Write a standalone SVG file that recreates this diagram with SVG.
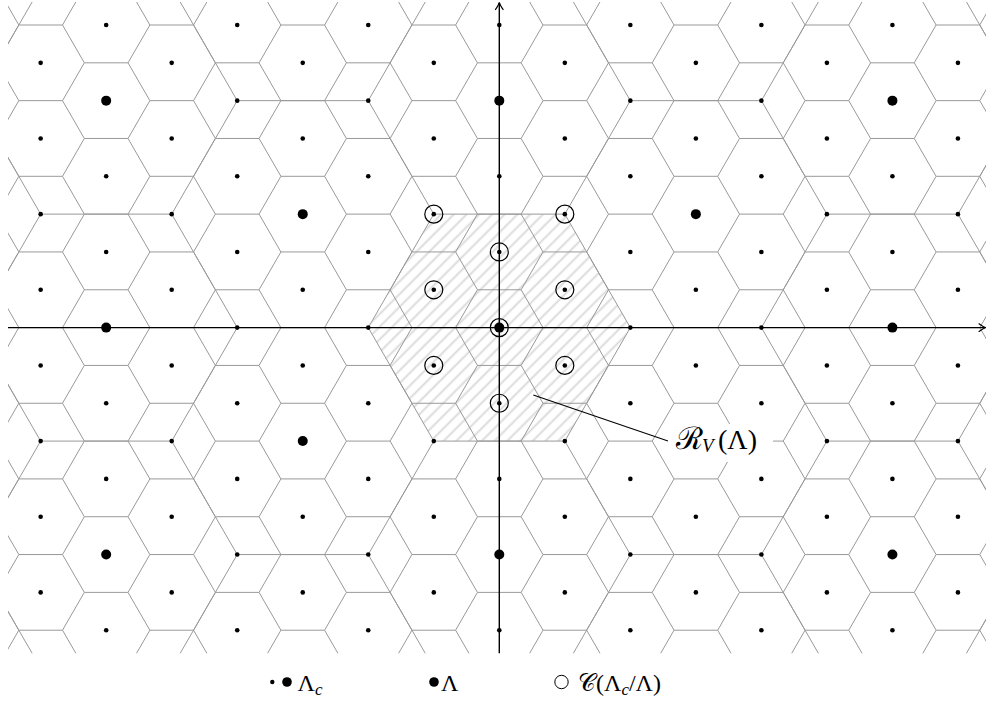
<svg xmlns="http://www.w3.org/2000/svg" xmlns:xlink="http://www.w3.org/1999/xlink" width="986" height="702" viewBox="0 0 986 702">
<style>
.hex{fill:none;stroke:#999;stroke-width:1}
.ax{fill:none;stroke:#000;stroke-width:1.4}
.arr{fill:none;stroke:#000;stroke-width:1.2;stroke-linecap:round}
.ring{fill:none;stroke:#000;stroke-width:1.2}
.tx{font-family:"Liberation Serif","DejaVu Serif",serif;fill:#000}
</style>
<defs>
<clipPath id="clip"><rect x="8" y="2" width="982.6" height="651.2"/></clipPath>
<pattern id="hatch" width="10" height="9" patternUnits="userSpaceOnUse" patternTransform="rotate(-45)">
<rect x="0" y="0" width="10" height="9" fill="#fff"/>
<line x1="-1" y1="4.5" x2="11" y2="4.5" stroke="#d9d9d9" stroke-width="1.8"/>
</pattern>
<path id="scol" class="hex" d="M21.84,-416.08 L43.68,-378.25 L21.84,-340.43 L43.68,-302.6 L21.84,-264.78 L43.68,-226.95 L21.84,-189.13 L43.68,-151.3 L21.84,-113.48 L43.68,-75.65 L21.84,-37.83 L43.68,0 L21.84,37.83 L43.68,75.65 L21.84,113.48 L43.68,151.3 L21.84,189.13 L43.68,226.95 L21.84,264.78 L43.68,302.6 L21.84,340.43 L43.68,378.25 L21.84,416.08 M-21.84,-416.08h43.68 M-21.84,-340.43h43.68 M-21.84,-264.78h43.68 M-21.84,-189.13h43.68 M-21.84,-113.48h43.68 M-21.84,-37.83h43.68 M-21.84,37.83h43.68 M-21.84,113.48h43.68 M-21.84,189.13h43.68 M-21.84,264.78h43.68 M-21.84,340.43h43.68 M-21.84,416.08h43.68"/>
<path id="bcol" class="hex" d="M65.52,-567.38 L131.04,-453.9 L65.52,-340.43 L131.04,-226.95 L65.52,-113.48 L131.04,0 L65.52,113.48 L131.04,226.95 L65.52,340.43 L131.04,453.9 L65.52,567.38 M-65.52,-567.38h131.04 M-65.52,-340.43h131.04 M-65.52,-113.48h131.04 M-65.52,113.48h131.04 M-65.52,340.43h131.04 M-65.52,567.38h131.04"/>
<g id="de">
<circle cx="0" cy="25" r="2.3"/><circle cx="0" cy="100.65" r="2.3"/><circle cx="0" cy="176.3" r="2.3"/><circle cx="0" cy="251.95" r="2.3"/><circle cx="0" cy="327.6" r="2.3"/><circle cx="0" cy="403.25" r="2.3"/><circle cx="0" cy="478.9" r="2.3"/><circle cx="0" cy="554.55" r="2.3"/><circle cx="0" cy="630.2" r="2.3"/>
</g>
<g id="do">
<circle cx="0" cy="62.83" r="2.3"/><circle cx="0" cy="138.48" r="2.3"/><circle cx="0" cy="214.13" r="2.3"/><circle cx="0" cy="289.78" r="2.3"/><circle cx="0" cy="365.43" r="2.3"/><circle cx="0" cy="441.08" r="2.3"/><circle cx="0" cy="516.73" r="2.3"/><circle cx="0" cy="592.38" r="2.3"/>
</g>
</defs>
<rect x="0" y="0" width="986" height="702" fill="#fff"/>

<g id="region">
<polygon points="368.26,327.6 433.78,214.13 564.82,214.13 630.34,327.6 564.82,441.08 433.78,441.08" fill="url(#hatch)"/>
</g>

<g id="cells" clip-path="url(#clip)">
<use xlink:href="#scol" transform="translate(-24.86,327.6)"/>
<use xlink:href="#scol" transform="translate(40.66,365.43)"/>
<use xlink:href="#scol" transform="translate(106.18,327.6)"/>
<use xlink:href="#scol" transform="translate(171.7,365.43)"/>
<use xlink:href="#scol" transform="translate(237.22,327.6)"/>
<use xlink:href="#scol" transform="translate(302.74,365.43)"/>
<use xlink:href="#scol" transform="translate(368.26,327.6)"/>
<use xlink:href="#scol" transform="translate(433.78,365.43)"/>
<use xlink:href="#scol" transform="translate(499.3,327.6)"/>
<use xlink:href="#scol" transform="translate(564.82,365.43)"/>
<use xlink:href="#scol" transform="translate(630.34,327.6)"/>
<use xlink:href="#scol" transform="translate(695.86,365.43)"/>
<use xlink:href="#scol" transform="translate(761.38,327.6)"/>
<use xlink:href="#scol" transform="translate(826.9,365.43)"/>
<use xlink:href="#scol" transform="translate(892.42,327.6)"/>
<use xlink:href="#scol" transform="translate(957.94,365.43)"/>
</g>

<g id="bigcells" clip-path="url(#clip)">
<use xlink:href="#bcol" transform="translate(-90.38,441.08)"/>
<use xlink:href="#bcol" transform="translate(106.18,327.6)"/>
<use xlink:href="#bcol" transform="translate(302.74,441.08)"/>
<use xlink:href="#bcol" transform="translate(499.3,327.6)"/>
<use xlink:href="#bcol" transform="translate(695.86,441.08)"/>
<use xlink:href="#bcol" transform="translate(892.42,327.6)"/>
</g>

<g id="axes">
<line class="ax" x1="8" y1="327.6" x2="985" y2="327.6"/>
<line class="ax" x1="499.3" y1="653.2" x2="499.3" y2="3"/>
<path class="arr" d="M979,323.8 C981.5,325.4 983.5,327 985.5,327.6 C983.5,328.2 981.5,329.8 979,331.4"/>
<path class="arr" d="M495.5,9.5 C497.1,7 498.7,5 499.3,2.5 C499.9,5 501.5,7 503.1,9.5"/>
</g>

<g id="fine-points" fill="#000">
<use xlink:href="#do" x="40.66"/>
<use xlink:href="#de" x="106.18"/>
<use xlink:href="#do" x="171.7"/>
<use xlink:href="#de" x="237.22"/>
<use xlink:href="#do" x="302.74"/>
<use xlink:href="#de" x="368.26"/>
<use xlink:href="#do" x="433.78"/>
<use xlink:href="#de" x="499.3"/>
<use xlink:href="#do" x="564.82"/>
<use xlink:href="#de" x="630.34"/>
<use xlink:href="#do" x="695.86"/>
<use xlink:href="#de" x="761.38"/>
<use xlink:href="#do" x="826.9"/>
<use xlink:href="#de" x="892.42"/>
<use xlink:href="#do" x="957.94"/>
</g>

<g id="coarse-points" fill="#000">
<circle cx="106.18" cy="100.65" r="5"/><circle cx="106.18" cy="327.6" r="5"/><circle cx="106.18" cy="554.55" r="5"/>
<circle cx="302.74" cy="214.13" r="5"/><circle cx="302.74" cy="441.08" r="5"/>
<circle cx="499.3" cy="100.65" r="5"/><circle cx="499.3" cy="327.6" r="5"/><circle cx="499.3" cy="554.55" r="5"/>
<circle cx="695.86" cy="214.13" r="5"/><circle cx="695.86" cy="441.08" r="5"/>
<circle cx="892.42" cy="100.65" r="5"/><circle cx="892.42" cy="327.6" r="5"/><circle cx="892.42" cy="554.55" r="5"/>
</g>

<g id="coset-leaders">
<circle class="ring" cx="499.3" cy="327.6" r="9"/>
<circle class="ring" cx="499.3" cy="251.95" r="9"/>
<circle class="ring" cx="499.3" cy="403.25" r="9"/>
<circle class="ring" cx="433.78" cy="289.78" r="9"/>
<circle class="ring" cx="564.82" cy="289.78" r="9"/>
<circle class="ring" cx="433.78" cy="365.43" r="9"/>
<circle class="ring" cx="564.82" cy="365.43" r="9"/>
<circle class="ring" cx="433.78" cy="214.13" r="9"/>
<circle class="ring" cx="564.82" cy="214.13" r="9"/>
</g>

<g id="connectors">
<line x1="533.3" y1="395" x2="668" y2="441" stroke="#000" stroke-width="1.1"/>
</g>

<g id="label-RV">
<rect x="668" y="424" width="105" height="38" fill="#fff"/>
<text class="tx" x="676" y="448.5" font-size="28"><tspan font-family="DejaVu Serif" font-size="31">ℛ</tspan><tspan x="702" font-style="italic" font-size="19" dy="3.5">V</tspan><tspan x="718" dy="-3.5">(Λ)</tspan></text>
</g>

<g id="legend">
<circle cx="272.3" cy="682" r="2.2" fill="#000"/>
<circle cx="287" cy="682" r="4.8" fill="#000"/>
<text class="tx" x="297.5" y="690.5" font-size="24">Λ<tspan font-style="italic" font-size="17" dy="4">c</tspan></text>
<circle cx="434" cy="682" r="4.8" fill="#000"/>
<text class="tx" x="441" y="690.5" font-size="24">Λ</text>
<circle cx="561.5" cy="682" r="6.7" fill="none" stroke="#000" stroke-width="1"/>
<text class="tx" x="578" y="690.5" font-size="24"><tspan font-family="DejaVu Serif">𝒞</tspan>(Λ<tspan font-style="italic" font-size="17" dy="4">c</tspan><tspan dy="-4">/Λ)</tspan></text>
</g>
</svg>
